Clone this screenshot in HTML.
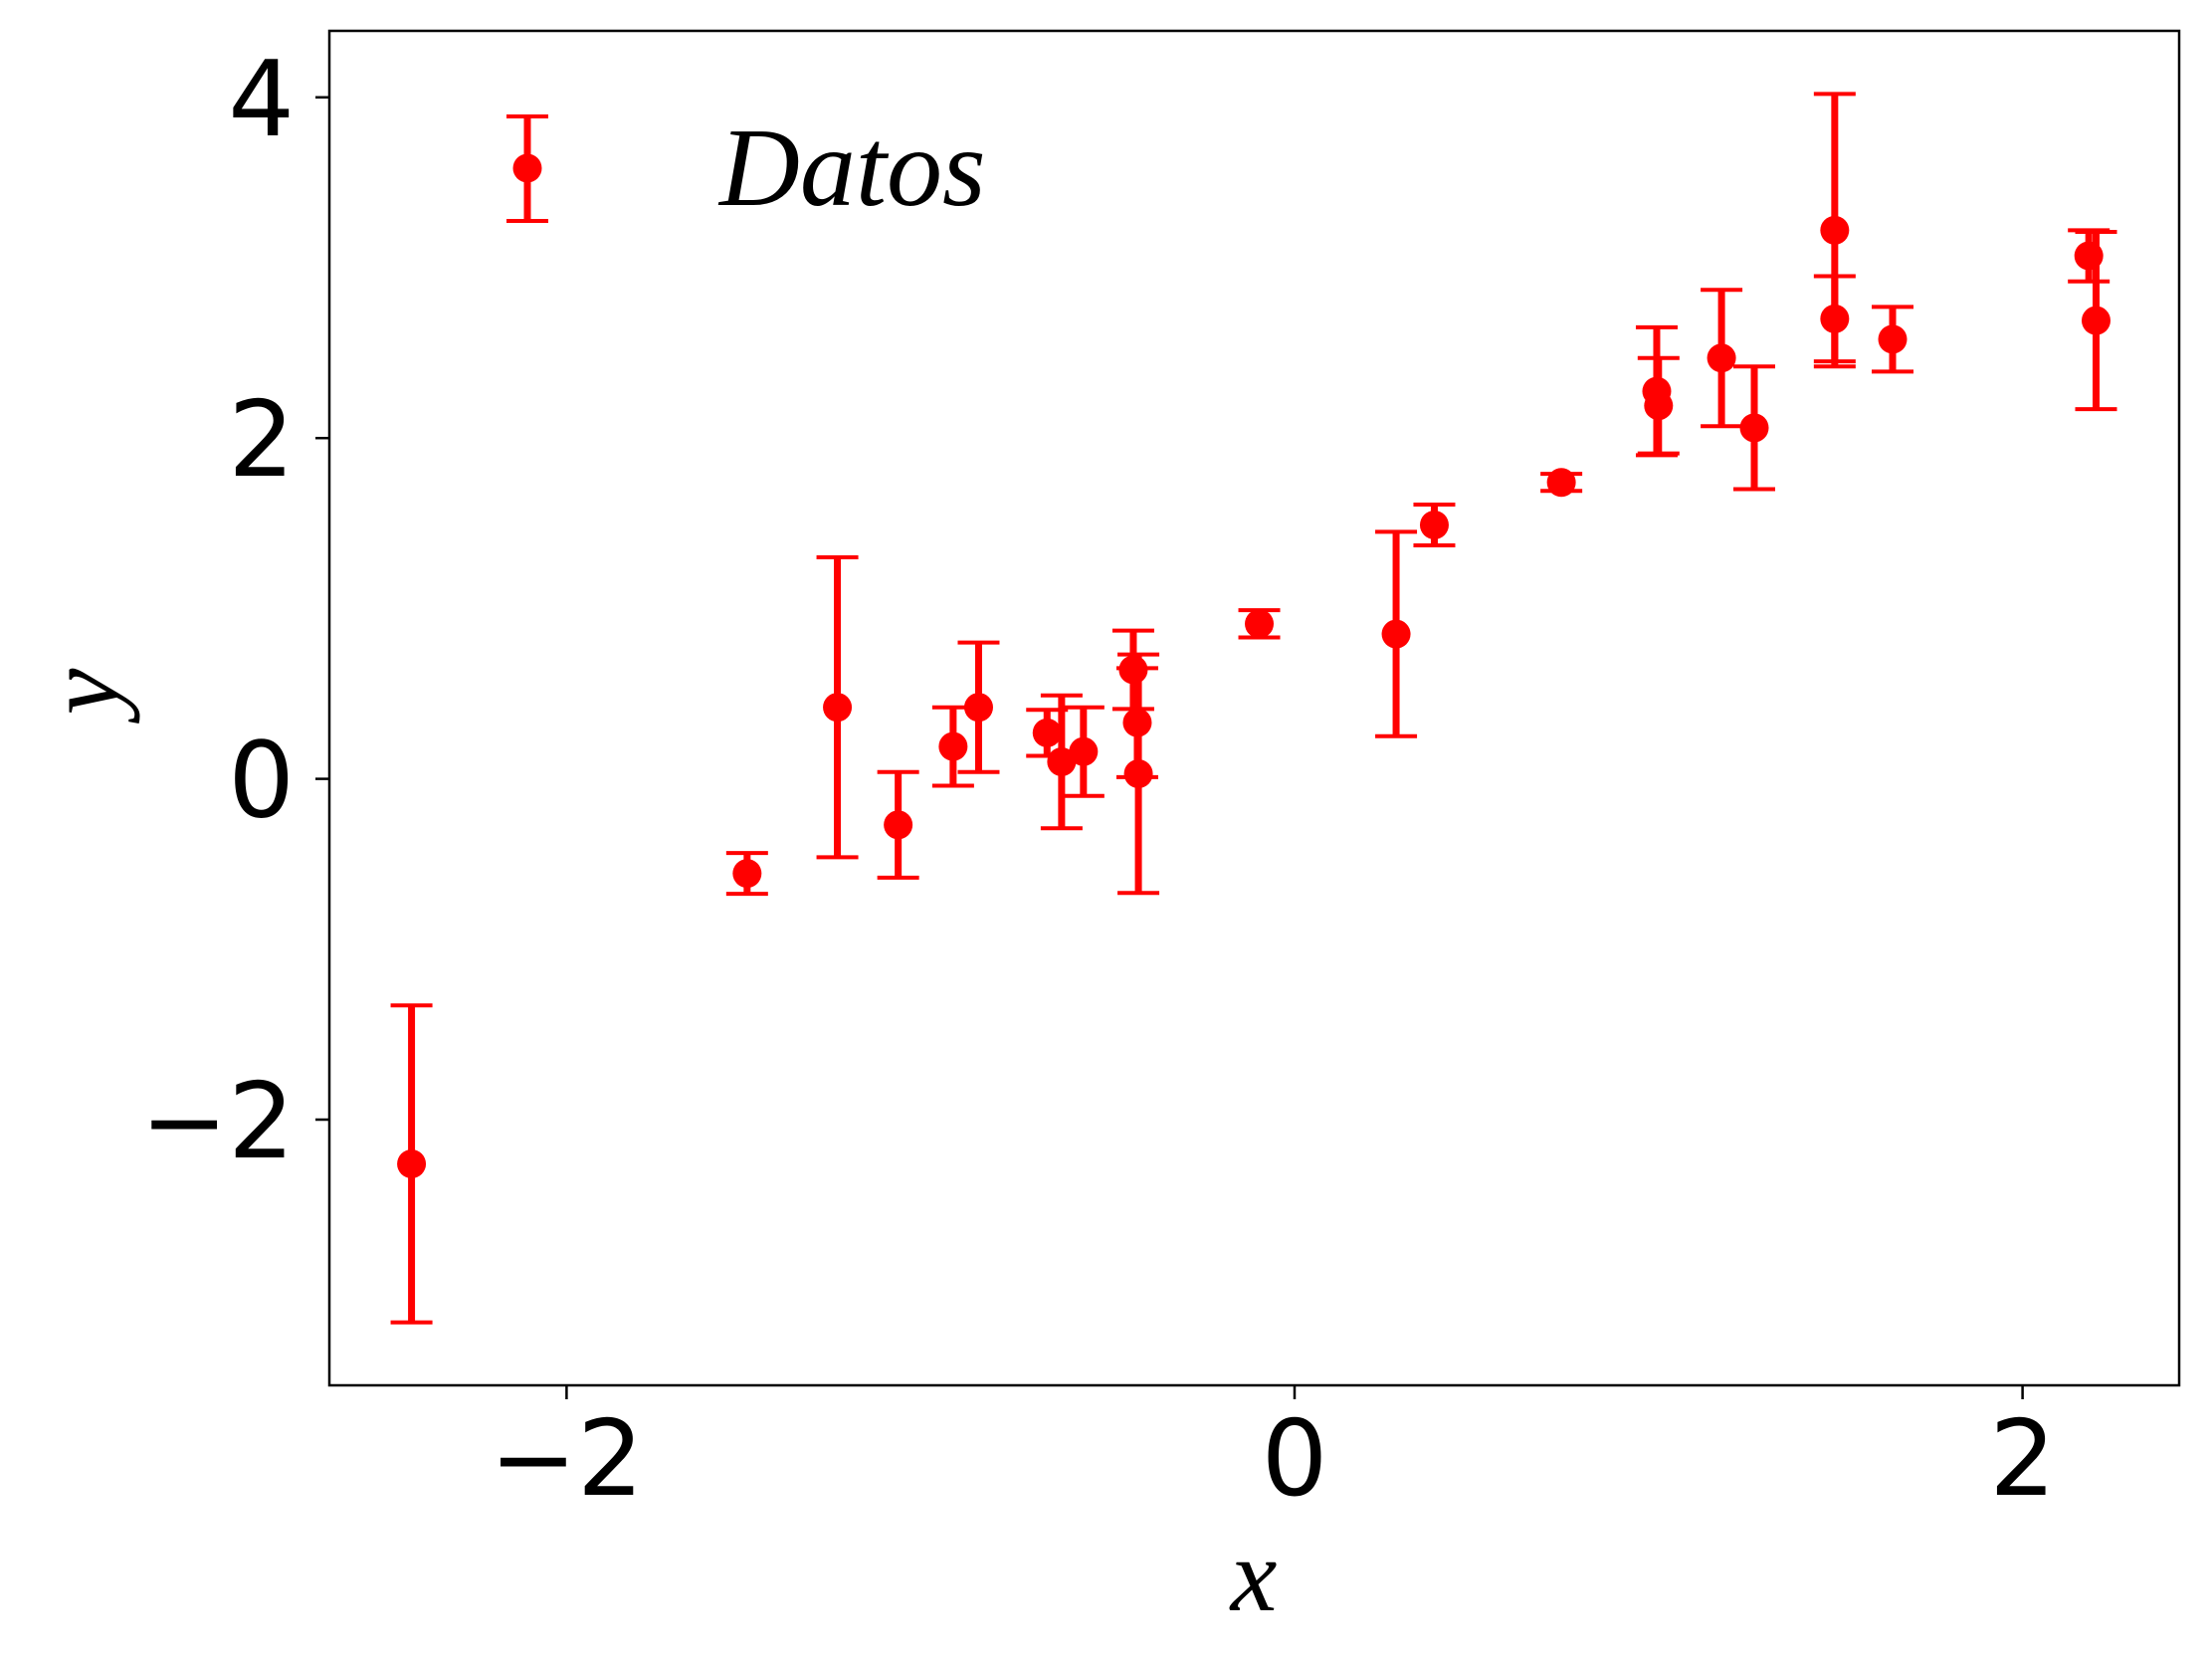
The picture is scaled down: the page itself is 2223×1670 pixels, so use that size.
<!DOCTYPE html>
<html><head><meta charset="utf-8"><style>
html,body{margin:0;padding:0;background:#fff;}
svg{display:block;}
.tick{font-family:"DejaVu Sans","Liberation Sans",sans-serif;font-size:105px;fill:#000;}
.lab{font-family:"Liberation Serif",serif;font-style:italic;font-size:105px;fill:#000;}
.leg{font-family:"Liberation Serif",serif;font-style:italic;font-size:112px;fill:#000;}
</style></head><body>
<svg id="chart" width="2223" height="1670" viewBox="0 0 2223 1670">
<g id="marks"></g>
<rect x="331" y="31" width="1859" height="1361" fill="none" stroke="#000" stroke-width="2.5"/>
<g id="axes"></g>
<g>
  <line x1="530" y1="117" x2="530" y2="222" stroke="#f00" stroke-width="7"/>
  <line x1="509" y1="117" x2="551" y2="117" stroke="#f00" stroke-width="4"/>
  <line x1="509" y1="222" x2="551" y2="222" stroke="#f00" stroke-width="4"/>
  <circle cx="530" cy="169" r="14.5" fill="#f00"/>
  <text x="723" y="206" class="leg">Datos</text>
</g>
<text x="1260" y="1618" class="lab" text-anchor="middle">x</text>
<text x="0" y="0" class="lab" text-anchor="middle" transform="translate(118,695) rotate(-90)">y</text>
</svg>
<script>
const xs = [-2.426,-1.504,-1.256,-1.089,-0.938,-0.868,-0.68,-0.64,-0.58,-0.443,-0.432,-0.429,-0.097,0.279,0.384,0.733,0.995,1.0,1.173,1.263,1.484,1.484,1.643,2.182,2.202];
const ys = [-2.26,-0.555,0.42,-0.27,0.19,0.42,0.27,0.10,0.16,0.64,0.33,0.03,0.91,0.85,1.49,1.74,2.275,2.19,2.47,2.06,3.22,2.70,2.58,3.07,2.69];
const errs = [0.93,0.12,0.88,0.31,0.23,0.38,0.135,0.39,0.26,0.23,0.32,0.70,0.08,0.60,0.12,0.05,0.375,0.28,0.40,0.36,0.80,0.25,0.19,0.15,0.52];
const xTicks = [-2,0,2];
const yTicks = [-2,0,2,4];
const xTickLabels = ["\u22122","0","2"];
const yTickLabels = ["\u22122","0","2","4"];

const NS = "http://www.w3.org/2000/svg";
function X(v){ return 1301 + v*365.8; }
function Y(v){ return 782.6 - v*171.2; }
function mk(tag, attrs, parent){
  const e = document.createElementNS(NS, tag);
  for (const k in attrs) e.setAttribute(k, attrs[k]);
  parent.appendChild(e); return e;
}
const marks = document.getElementById('marks');
const axes = document.getElementById('axes');
for (let i=0;i<xs.length;i++){
  const g = mk('g', {}, marks);
  
  
  const cx = X(xs[i]), top = Y(ys[i]+errs[i]), bot = Y(ys[i]-errs[i]);
  const bar = mk('line', {x1:cx, y1:top, x2:cx, y2:bot, stroke:'#f00', 'stroke-width':7}, g);
  
  
  const c1 = mk('line', {x1:cx-21, y1:top, x2:cx+21, y2:top, stroke:'#f00', 'stroke-width':4}, g);
  
  
  const c2 = mk('line', {x1:cx-21, y1:bot, x2:cx+21, y2:bot, stroke:'#f00', 'stroke-width':4}, g);
  
  
  const p = mk('circle', {cx:cx, cy:Y(ys[i]), r:14.5, fill:'#f00'}, g);
  
  
}
xTicks.forEach((t,i)=>{
  const l = mk('line', {x1:X(t), y1:1392, x2:X(t), y2:1406, stroke:'#000', 'stroke-width':2.5}, axes);
  
  
  const tx = mk('text', {x:X(t), y:1502, 'text-anchor':'middle', class:'tick'}, axes);
  tx.textContent = xTickLabels[i];
  
  
});
yTicks.forEach((t,i)=>{
  const l = mk('line', {x1:317, y1:Y(t), x2:331, y2:Y(t), stroke:'#000', 'stroke-width':2.5}, axes);
  
  
  const tx = mk('text', {x:296, y:Y(t)+38, 'text-anchor':'end', class:'tick'}, axes);
  tx.textContent = yTickLabels[i];
  
  
});
</script>
</body></html>
